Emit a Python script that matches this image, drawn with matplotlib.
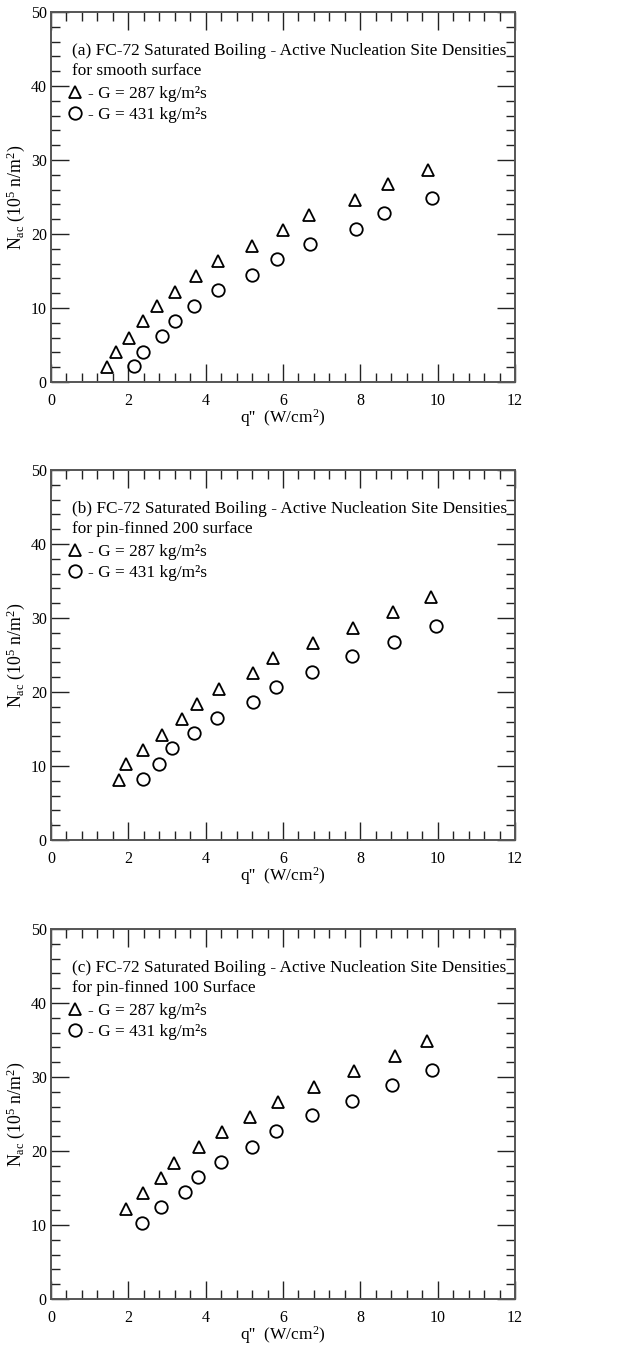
import matplotlib
matplotlib.use("Agg")
import matplotlib.pyplot as plt
from matplotlib.ticker import MultipleLocator

plt.rcParams["font.family"] = ["Liberation Serif", "DejaVu Serif"]
plt.rcParams["mathtext.fontset"] = "custom"
plt.rcParams["mathtext.rm"] = "Liberation Serif"
plt.rcParams["mathtext.it"] = "Liberation Serif:italic"

# heat flux (W/cm^2) and active nucleation site density (10^5 n/m^2)
q_smooth_287 = [1.46, 1.68, 2.01, 2.38, 2.74, 3.21, 3.76, 4.31, 5.21, 5.99, 6.66, 7.86, 8.71, 9.74]
n_smooth_287 = [2.0, 4.0, 6.0, 8.2, 10.2, 12.2, 14.3, 16.4, 18.4, 20.5, 22.5, 24.6, 26.7, 28.7]
q_smooth_431 = [2.14, 2.39, 2.87, 3.20, 3.69, 4.31, 5.19, 5.84, 6.70, 7.89, 8.60, 9.85]
n_smooth_431 = [2.1, 4.1, 6.2, 8.3, 10.3, 12.4, 14.5, 16.6, 18.6, 20.7, 22.8, 24.8]

q_pf200_287 = [1.75, 1.95, 2.39, 2.87, 3.39, 3.77, 4.35, 5.22, 5.75, 6.77, 7.80, 8.84, 9.83]
n_pf200_287 = [8.1, 10.2, 12.2, 14.2, 16.4, 18.4, 20.4, 22.5, 24.6, 26.6, 28.7, 30.8, 32.8]
q_pf200_431 = [2.38, 2.80, 3.13, 3.70, 4.29, 5.22, 5.81, 6.74, 7.79, 8.87, 9.95]
n_pf200_431 = [8.2, 10.3, 12.4, 14.4, 16.5, 18.6, 20.7, 22.7, 24.8, 26.8, 28.9]

q_pf100_287 = [1.93, 2.38, 2.85, 3.17, 3.82, 4.42, 5.15, 5.88, 6.79, 7.84, 8.90, 9.72]
n_pf100_287 = [12.2, 14.3, 16.4, 18.4, 20.5, 22.5, 24.6, 26.6, 28.7, 30.8, 32.9, 34.9]
q_pf100_431 = [2.35, 2.85, 3.47, 3.80, 4.40, 5.21, 5.82, 6.74, 7.79, 8.81, 9.85]
n_pf100_431 = [10.3, 12.4, 14.4, 16.5, 18.5, 20.6, 22.7, 24.8, 26.8, 28.9, 31.0]

titles = [
    "(a) FC-72 Saturated Boiling - Active Nucleation Site Densities\nfor smooth surface",
    "(b) FC-72 Saturated Boiling - Active Nucleation Site Densities\nfor pin-finned 200 surface",
    "(c) FC-72 Saturated Boiling - Active Nucleation Site Densities\nfor pin-finned 100 Surface",
]
series_labels = ["- G = 287 kg/m²s", "- G = 431 kg/m²s"]

panels = [
    (q_smooth_287, n_smooth_287, q_smooth_431, n_smooth_431),
    (q_pf200_287, n_pf200_287, q_pf200_431, n_pf200_431),
    (q_pf100_287, n_pf100_287, q_pf100_431, n_pf100_431),
]

fig = plt.figure(figsize=(6.25, 13.53), dpi=100)
bottoms = [0.7177, 0.3792, 0.0399]

for (qa, na, qb, nb), title, bottom in zip(panels, titles, bottoms):
    ax = fig.add_axes([0.0816, bottom, 0.7424, 0.2735])
    mk = dict(linestyle="none", markersize=9, markerfacecolor="none",
              markeredgecolor="black", markeredgewidth=1.3)
    h1, = ax.plot(qa, na, marker="^", **mk)
    h2, = ax.plot(qb, nb, marker="o", **mk)

    ax.set_xlim(0, 12)
    ax.set_ylim(0, 50)
    ax.xaxis.set_major_locator(MultipleLocator(2))
    ax.xaxis.set_minor_locator(MultipleLocator(0.4))
    ax.yaxis.set_major_locator(MultipleLocator(10))
    ax.yaxis.set_minor_locator(MultipleLocator(2))
    ax.tick_params(which="both", direction="in", top=True, right=True,
                   color="#222222", labelsize=11.5)
    ax.tick_params(which="major", length=13, width=1.0)
    ax.tick_params(which="minor", length=6.5, width=1.0)
    ax.tick_params(axis="x", which="major", pad=8)
    ax.tick_params(axis="y", which="major", pad=3)
    for sp in ax.spines.values():
        sp.set_color("#555555")
        sp.set_linewidth(1.4)

    ax.set_xlabel(r"q''  (W/cm$^2$)", fontsize=12.5, labelpad=-1.5)
    ax.set_ylabel(r"N$_{\rm ac}$ (10$^5$ n/m$^2$)", fontsize=12.8, labelpad=2.5)

    ax.text(0.55, 43.4, title, fontsize=12.4, va="center", ha="left",
            linespacing=1.35)
    ax.legend([h1, h2], series_labels, loc="center left",
              bbox_to_anchor=(0.037, 0.749), frameon=False, fontsize=12.4,
              handlelength=0.8, handletextpad=0.35, labelspacing=0.28,
              borderaxespad=0, borderpad=0, markerscale=1.0)

fig.savefig("out.png", dpi=100)
